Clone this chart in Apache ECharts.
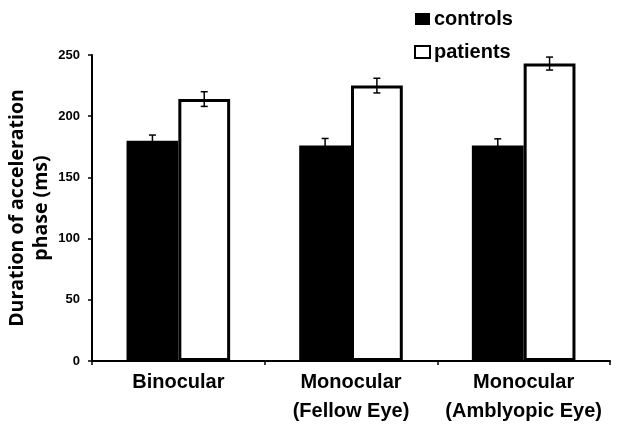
<!DOCTYPE html>
<html>
<head>
<meta charset="utf-8">
<script src="https://cdn.jsdelivr.net/npm/echarts@6/dist/echarts.min.js"></script>
<style>html,body{margin:0;padding:0;background:#fff}#c{width:639px;height:433px}</style>
</head>
<body>
<div id="c"></div>
<script>
const categories = ['Binocular', 'Monocular\n(Fellow Eye)', 'Monocular\n(Amblyopic Eye)'];
const controls = [180, 176, 176];
const controlsErr = [4.6, 5.8, 5.5];
const patients = [214, 225, 243];
const patientsErr = [6, 6, 5.3];
const yTicks = [0, 50, 100, 150, 200, 250];

const chart = echarts.init(document.getElementById('c'));

function errSeries(name, vals, errs, offset) {
  return {
    type: 'custom',
    name: name + ' err',
    z: 10,
    data: vals.map((v, i) => [i, v - errs[i], v + errs[i]]),
    renderItem: function (params, api) {
      const x = api.coord([api.value(0), 0])[0];
      const bw = api.size([1, 0])[0] * 0.3;
      const cx = x + offset * bw;
      const lo = api.coord([api.value(0), api.value(1)])[1];
      const hi = api.coord([api.value(0), api.value(2)])[1];
      const cap = 3.5;
      const st = { stroke: '#000', lineWidth: 1.5 };
      return {
        type: 'group',
        children: [
          { type: 'line', shape: { x1: cx, y1: lo, x2: cx, y2: hi }, style: st },
          { type: 'line', shape: { x1: cx - cap, y1: lo, x2: cx + cap, y2: lo }, style: st },
          { type: 'line', shape: { x1: cx - cap, y1: hi, x2: cx + cap, y2: hi }, style: st }
        ]
      };
    }
  };
}

chart.setOption({
  animation: false,
  grid: { left: 92, right: 29, top: 55, bottom: 72, containLabel: false, outerBoundsMode: 'none' },
  legend: {
    data: [
      { name: 'controls', itemStyle: { color: '#000', borderColor: '#000', borderWidth: 0 } },
      { name: 'patients', itemStyle: { color: '#fff', borderColor: '#000', borderWidth: 2 } }
    ],
    orient: 'vertical',
    left: 409,
    top: 4,
    itemGap: 13,
    itemWidth: 15,
    itemHeight: 12,
    icon: 'rect',
    textStyle: { fontFamily: 'Liberation Sans, Arial', fontWeight: 'bold', fontSize: 20, color: '#000', padding: [0, 0, 0, -1] }
  },
  xAxis: {
    type: 'category',
    data: categories,
    axisLine: { lineStyle: { color: '#000', width: 2 } },
    axisTick: { show: true, length: 4, lineStyle: { color: '#000', width: 1.5 } },
    axisLabel: {
      color: '#000', fontFamily: 'Liberation Sans, Arial', fontWeight: 'bold', fontSize: 20,
      lineHeight: 29, margin: 7, interval: 0
    }
  },
  yAxis: {
    type: 'value',
    min: 0, max: 250, interval: 50,
    name: 'Duration of acceleration\nphase (ms)',
    nameLocation: 'middle',
    nameRotate: 90,
    nameGap: 39,
    nameMoveOverlap: false,
    nameTextStyle: { color: '#000', fontFamily: 'Open Sans', fontWeight: 'bold', fontSize: 19.5, lineHeight: 24 },
    splitLine: { show: false },
    axisLine: { show: true, lineStyle: { color: '#000', width: 2 } },
    axisTick: { show: true, length: 4, lineStyle: { color: '#000', width: 1.5 } },
    axisLabel: {
      color: '#000', fontFamily: 'Liberation Sans, Arial', fontWeight: 'bold', fontSize: 13, margin: 12,
      formatter: v => yTicks.includes(v) ? String(v) : ''
    }
  },
  series: [
    {
      name: 'controls', type: 'bar', data: controls, barGap: '0%', barCategoryGap: '40%',
      itemStyle: { color: '#000', borderColor: '#000', borderWidth: 0 }
    },
    {
      name: 'patients', type: 'bar', data: patients,
      itemStyle: { color: '#fff', borderColor: '#000', borderWidth: 3 }
    },
    errSeries('controls', controls, controlsErr, -0.5),
    errSeries('patients', patients, patientsErr, 0.5)
  ]
});
</script>
</body>
</html>
